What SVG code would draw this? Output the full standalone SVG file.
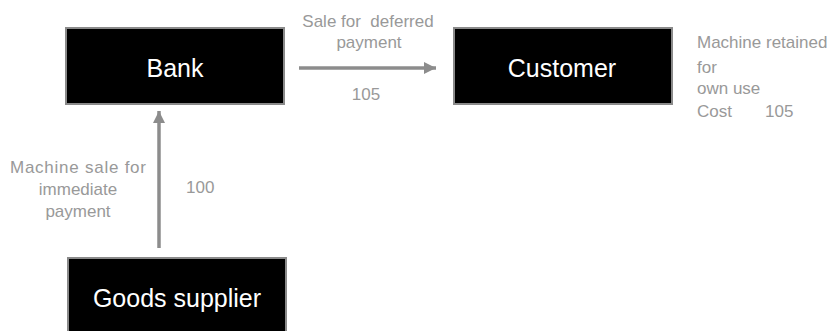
<svg xmlns="http://www.w3.org/2000/svg" width="837" height="331" viewBox="0 0 837 331">
<style>
.box{fill:#000;stroke:#8a8a8a;stroke-width:2}
.nt{font-family:"Liberation Sans",Arial,sans-serif;font-size:25px;fill:#fff;text-anchor:middle}
.lb{font-family:"Liberation Sans",Arial,sans-serif;font-size:17px;fill:#999;white-space:pre}
.c{text-anchor:middle}
.ln{stroke:#8c8c8c;stroke-width:3.5;fill:none}
</style>
<defs>
<marker id="ah" markerUnits="userSpaceOnUse" markerWidth="12" markerHeight="12" refX="10" refY="5" orient="auto" viewBox="0 0 10 10">
<path d="M0,0 L10,5 L0,10 z" fill="#8c8c8c"/>
</marker>
</defs>
<rect width="837" height="331" fill="#fff"/>
<g id="bank">
<rect class="box" x="66" y="28" width="218" height="76"/>
<text class="nt" x="175" y="77">Bank</text>
</g>
<g id="customer">
<rect class="box" x="454" y="28" width="218" height="76"/>
<text class="nt" x="562" y="77">Customer</text>
</g>
<g id="supplier">
<rect class="box" x="68" y="258" width="218" height="80"/>
<text class="nt" x="177" y="307">Goods supplier</text>
</g>
<g id="connectors">
<line class="ln" x1="299" y1="68" x2="436" y2="68" marker-end="url(#ah)"/>
<line class="ln" x1="159" y1="248" x2="159" y2="111" marker-end="url(#ah)"/>
</g>
<g id="labels">
<text class="lb c" x="368" y="27" xml:space="preserve">Sale for  deferred</text>
<text class="lb c" x="369" y="48">payment</text>
<text class="lb c" x="366" y="100">105</text>
<text class="lb c" x="78" y="173" textLength="136">Machine sale for</text>
<text class="lb c" x="78" y="195">immediate</text>
<text class="lb c" x="78" y="217">payment</text>
<text class="lb" x="186" y="193">100</text>
<text class="lb" x="697" y="48">Machine retained</text>
<text class="lb" x="697" y="73">for</text>
<text class="lb" x="697" y="94">own use</text>
<text class="lb" x="697" y="117" xml:space="preserve">Cost       105</text>
</g>
</svg>
